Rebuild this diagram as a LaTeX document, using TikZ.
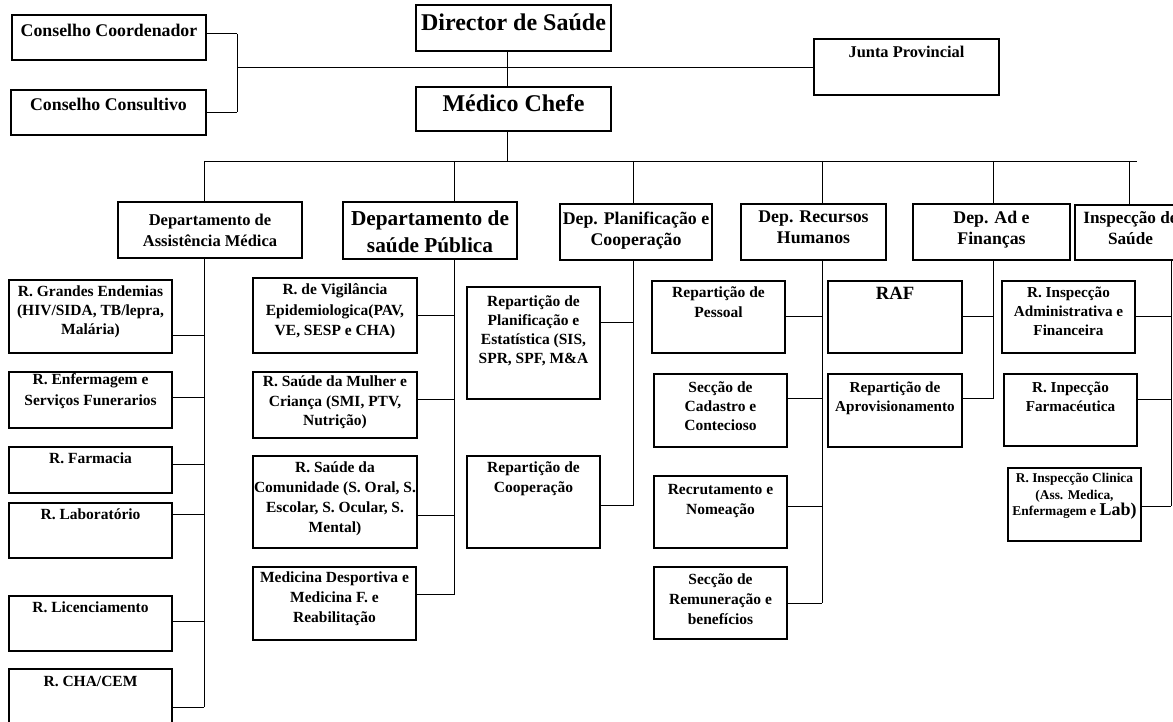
\documentclass[tikz,border=0pt]{standalone}
\usepackage{fontspec}
\setmainfont{Liberation Serif}
\usetikzlibrary{calc,fit,positioning}
\def\unitbox[#1][#2](#3)(#4)(#5)#6{%
  \node[#1, fit={(#4) (#5)}] (#3) {};
  \node[txt, #2, below=of #3.north] (#3-t) {#6};}
\def\feedline(#1)(#2)#3{%
  \path ($(#1.north east)!#3!(#1.south east)$) coordinate (#1-l);
  \draw[link] (#1-l) -- (#1-l -| #2);}

\begin{document}
\begin{tikzpicture}[x=1pt, y=-1pt, node distance=6.3pt,
  box/.style={draw, line width=1.1pt, inner sep=0pt},
  heavy/.style={box, line width=2.6pt},
  link/.style={line width=0.9pt},
  txt/.style={align=center, inner sep=0pt, font=\bfseries\fontsize{15.5}{19.5}\selectfont},
  dep/.style={font=\bfseries\fontsize{17.8}{21}\selectfont},
  big/.style={font=\bfseries\fontsize{24}{28}\selectfont}]
			%%%%% START %%%%%
			\useasboundingbox (0,0) rectangle (1173,722);
			\clip (0,0) rectangle (1173,722);
			
			\unitbox[heavy][dep, node distance=10.4pt](cc)(12,15)(206,60){Conselho Coordenador}
			\unitbox[heavy][dep, node distance=9.7pt](cs)(11,90)(206,135){Conselho Consultivo}
			\unitbox[heavy][big, node distance=10pt](dir)(416,5)(611,51){Director de Saúde}
			\unitbox[heavy][big, node distance=9pt](med)(416,87)(611,131){Médico Chefe}
			\unitbox[box][font=\bfseries\fontsize{16.4}{20}\selectfont, node distance=7.5pt](jp)(814,39)(999,95){Junta Provincial}
			
			\unitbox[box][font=\bfseries\fontsize{16.5}{21}\selectfont, node distance=12.5pt](dam)(118,202)(302,258){Departamento de\\Assistência Médica}
			\unitbox[box][font=\bfseries\fontsize{21.3}{27}\selectfont, node distance=9pt](dsp)(343,202)(517,259){Departamento de\\saúde Pública}
			\unitbox[box][dep, node distance=8.5pt](dpc)(560,204)(712,260){Dep. Planificação e\\Cooperação}
			\unitbox[box][dep, node distance=7.5pt](drh)(741,204)(886,260){Dep. Recursos\\Humanos}
			\unitbox[box][dep, node distance=7.5pt](daf)(913,204)(1070,260){Dep. Ad e\\Finanças}
			\unitbox[heavy][font=\bfseries\fontsize{17.2}{21}\selectfont, node distance=7.5pt](ins)(1075,205)(1186,260){Inspecção de\\Saúde}
			
			\unitbox[box][font=\bfseries\fontsize{15.5}{19}\selectfont](ge)(9,280)(172,353){R. Grandes Endemias\\(HIV/SIDA, TB/lepra,\\Malária)}
			\unitbox[box][font=\bfseries\fontsize{15.5}{21}\selectfont, node distance=1.5pt](ef)(9,372)(172,428){R. Enfermagem e\\Serviços Funerarios}
			\unitbox[box][](fa)(9,447)(172,493){R. Farmacia}
			\unitbox[box][](la)(9,503)(172,558){R. Laboratório}
			\unitbox[box][](li)(9,596)(172,651){R. Licenciamento}
			\unitbox[box][node distance=7.3pt](ch)(9,669)(172,726){R. CHA/CEM}
			
			\unitbox[box][font=\bfseries\fontsize{15.5}{20.5}\selectfont](vg)(253,278)(417,353){R. de Vigilância\\Epidemiologica(PAV,\\VE, SESP e CHA)}
			\unitbox[box][node distance=4.3pt](mu)(253,372)(417,438){R. Saúde da Mulher e\\Criança (SMI, PTV,\\Nutrição)}
			\unitbox[box][font=\bfseries\fontsize{15.5}{20}\selectfont](co)(253,456)(417,548){R. Saúde da\\Comunidade (S. Oral, S.\\Escolar, S. Ocular, S.\\Mental)}
			\unitbox[box][font=\bfseries\fontsize{15.5}{20}\selectfont, node distance=5.3pt](md)(253,567)(416,640){Medicina Desportiva e\\Medicina F. e\\Reabilitação}
			
			\unitbox[box][font=\bfseries\fontsize{15.5}{19}\selectfont, node distance=9.3pt](pe)(467,287)(600,399){Repartição de\\Planificação e\\Estatística (SIS,\\SPR, SPF, M\&A}
			\unitbox[box][](rc)(467,456)(600,548){Repartição de\\Cooperação}
			
			\unitbox[box][font=\bfseries\fontsize{15.5}{20}\selectfont](rp)(652,281)(785,353){Repartição de\\Pessoal}
			\unitbox[box][font=\bfseries\fontsize{15.5}{19}\selectfont, node distance=8.3pt](sc)(654,374)(787,447){Secção de\\Cadastro e\\Contecioso}
			\unitbox[box][font=\bfseries\fontsize{15.5}{20}\selectfont, node distance=8.3pt](rn)(654,476)(787,548){Recrutamento e\\Nomeação}
			\unitbox[box][font=\bfseries\fontsize{15.5}{20}\selectfont, node distance=7.3pt](rb)(654,567)(787,639){Secção de\\Remuneração e\\benefícios}
			
			\unitbox[box][font=\bfseries\fontsize{18.7}{22}\selectfont](raf)(828,281)(962,353){RAF}
			\unitbox[box][font=\bfseries\fontsize{15.2}{19}\selectfont, node distance=8.3pt](ap)(828,374)(962,447){Repartição de\\Aprovisionamento}
			
			\unitbox[box][font=\bfseries\fontsize{15.2}{19}\selectfont](ia)(1002,281)(1135,353){R. Inspecção\\Administrativa e\\Financeira}
			\unitbox[box][font=\bfseries\fontsize{15.2}{19}\selectfont, node distance=8.3pt](ifa)(1004,374)(1137,446){R. Inpecção\\Farmacéutica}
			\unitbox[box][font=\bfseries\fontsize{13.4}{16.5}\selectfont, node distance=5.8pt](ic)(1008,468)(1141,541){R. Inspecção Clinica\\(Ass. Medica,\\Enfermagem e {\fontsize{18}{16.5}\selectfont Lab)}}
			
			%% spine and trunks
			\coordinate (jn) at (237,0);
			\coordinate (spine) at (507,0);
			\coordinate (bus) at (0,161);
			\coordinate (busend) at (1137,161);
			\coordinate (ta) at (204,0);
			\coordinate (tb) at (454,0);
			\coordinate (tc) at (633,0);
			\coordinate (td) at (822,0);
			\coordinate (te) at (993,0);
			\coordinate (tf) at (1129,0);
			\coordinate (tg) at (1171,0);
			
			\feedline(cc)(jn){0.42}
			\feedline(cs)(jn){0.5}
			\draw[link] (cc-l -| jn) -- (cs-l -| jn);
			\draw[link] (jn |- jp.west) -- (jp.west);
			\draw[link] (spine |- dir.south) -- (spine |- med.north);
			\draw[link] (spine |- med.south) -- (spine |- bus);
			\draw[link] (ta |- bus) -- (busend);
			
			\draw[link] (ta |- bus) -- (ta |- dam.north);
			\draw[link] (tb |- bus) -- (tb |- dsp.north);
			\draw[link] (tc |- bus) -- (tc |- dpc.north);
			\draw[link] (td |- bus) -- (td |- drh.north);
			\draw[link] (te |- bus) -- (te |- daf.north);
			\draw[link] (tf |- bus) -- (tf |- ins.north);
			
			\feedline(ge)(ta){0.75}
			\feedline(ef)(ta){0.46}
			\feedline(fa)(ta){0.39}
			\feedline(la)(ta){0.22}
			\feedline(li)(ta){0.47}
			\feedline(ch)(ta){0.67}
			\draw[link] (ta |- dam.south) -- (ta |- ch-l);
			
			\feedline(vg)(tb){0.5}
			\feedline(mu)(tb){0.41}
			\feedline(co)(tb){0.64}
			\feedline(md)(tb){0.38}
			\draw[link] (tb |- dsp.south) -- (tb |- md-l);
			
			\feedline(pe)(tc){0.32}
			\feedline(rc)(tc){0.54}
			\draw[link] (tc |- dpc.south) -- (tc |- rc-l);
			
			\feedline(rp)(td){0.49}
			\feedline(sc)(td){0.34}
			\feedline(rn)(td){0.42}
			\feedline(rb)(td){0.5}
			\draw[link] (td |- drh.south) -- (td |- rb-l);
			
			\feedline(raf)(te){0.49}
			\feedline(ap)(te){0.34}
			\draw[link] (te |- daf.south) -- (te |- ap-l);
			
			\feedline(ia)(tg){0.49}
			\feedline(ifa)(tg){0.35}
			\feedline(ic)(tg){0.52}
			\draw[link] (tg |- ins.south) -- (tg |- ic-l);
			%%%%% END %%%%%
\end{tikzpicture}
\end{document}
